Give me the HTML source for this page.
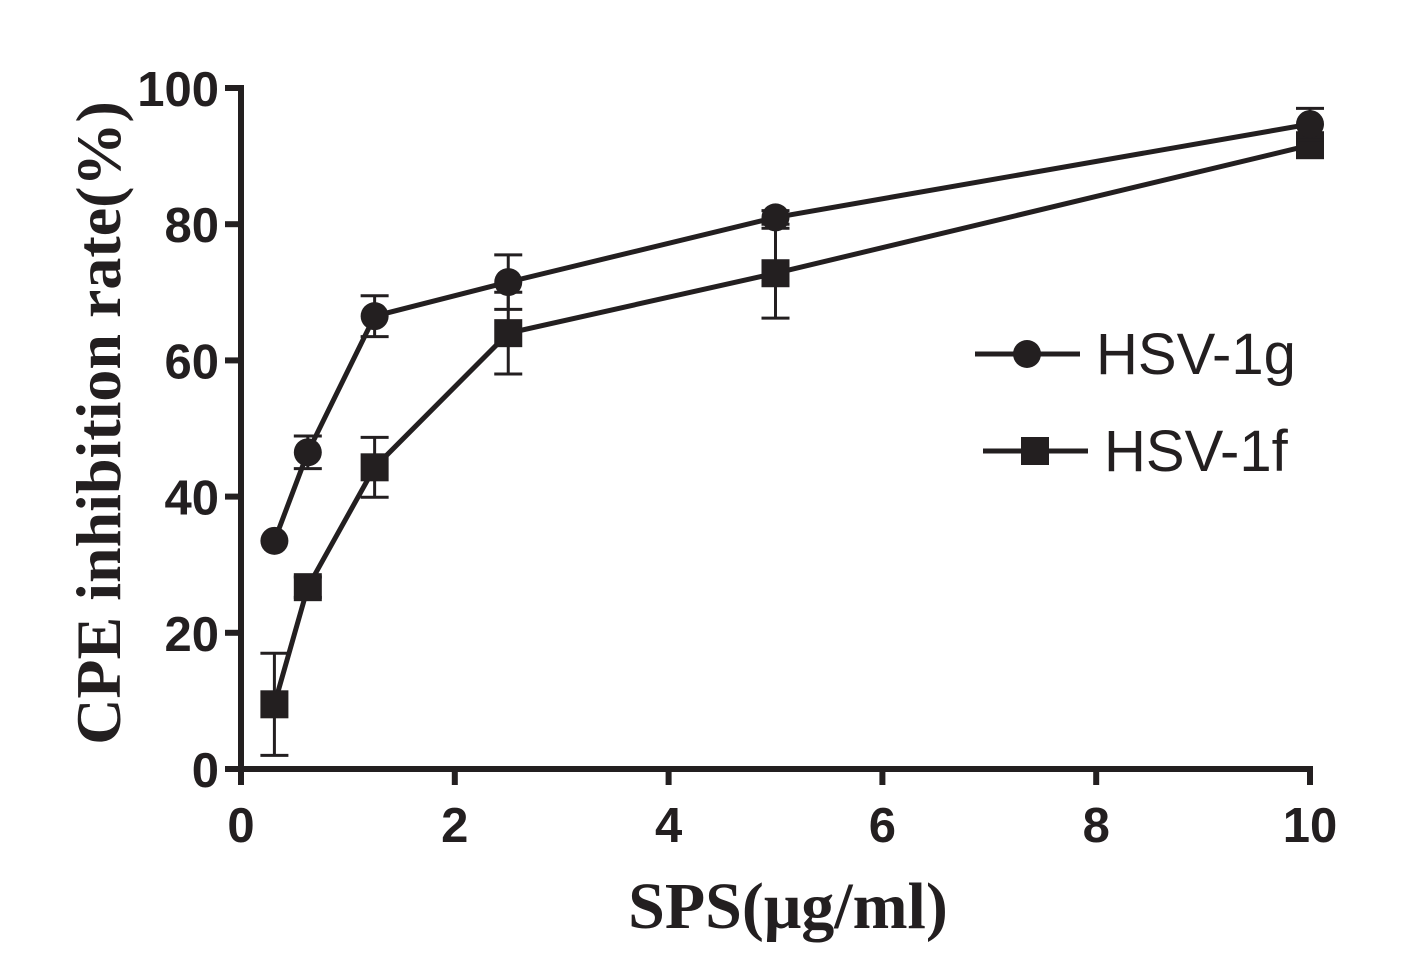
<!DOCTYPE html>
<html><head><meta charset="utf-8"><style>
body{margin:0;background:#fff;width:1417px;height:966px;overflow:hidden}
svg{display:block}
</style></head><body>
<svg id="chart" width="1417" height="966" xmlns="http://www.w3.org/2000/svg"></svg>
<script>
const xVals=[0.3125,0.625,1.25,2.5,5,10];
const gVals=[33.5,46.5,66.5,71.5,81,94.7];
const gErr=[0,2.4,3,4,1,2.3];
const fVals=[9.5,26.7,44.3,64,72.8,91.6];
const fErr=[7.5,1.5,4.4,6,6.6,1];
const xTicks=[0,2,4,6,8,10];
const yTicks=[0,20,40,60,80,100];
const NS='http://www.w3.org/2000/svg';
const svg=document.getElementById('chart');
const X0=241,X1=1310,Y0=769,Y1=88;
const xs=v=>X0+(X1-X0)*v/10;
const ys=v=>Y0-(Y0-Y1)*v/100;
function mk(t,a,p){const e=document.createElementNS(NS,t);for(const k in a)e.setAttribute(k,a[k]);(p||svg).appendChild(e);return e;}
const axes=mk('g',{});


mk('line',{x1:X0,y1:Y0,x2:X1+3,y2:Y0,stroke:'#231f20','stroke-width':6},axes);
mk('line',{x1:X0,y1:Y0+3,x2:X0,y2:Y1-3,stroke:'#231f20','stroke-width':6},axes);
xTicks.forEach(t=>{
 mk('line',{x1:xs(t),y1:Y0,x2:xs(t),y2:Y0+16,stroke:'#231f20','stroke-width':6},axes);
 const tx=mk('text',{x:xs(t),y:Y0+73,'text-anchor':'middle','font-family':'Liberation Sans, sans-serif','font-weight':'bold','font-size':49,fill:'#231f20'},axes);
 tx.textContent=t;
 
 
});
yTicks.forEach(t=>{
 mk('line',{x1:X0-16,y1:ys(t),x2:X0,y2:ys(t),stroke:'#231f20','stroke-width':6},axes);
 const tx=mk('text',{x:X0-22,y:ys(t)+18,'text-anchor':'end','font-family':'Liberation Sans, sans-serif','font-weight':'bold','font-size':49,fill:'#231f20'},axes);
 tx.textContent=t;
 
 
});
const xt=mk('text',{x:788,y:928,'text-anchor':'middle','font-family':'Liberation Serif, serif','font-weight':'bold','font-size':66,fill:'#231f20'});
xt.textContent='SPS(μg/ml)';


const yt=mk('text',{x:0,y:0,transform:'translate(120,423) rotate(-90)','text-anchor':'middle','font-family':'Liberation Serif, serif','font-weight':'bold','font-size':64,fill:'#231f20'});
yt.textContent='CPE inhibition rate(%)';


function series(vals,err,shape,name){
 const g=mk('g',{});
 
 
 mk('polyline',{points:xVals.map((x,i)=>xs(x)+','+ys(vals[i])).join(' '),fill:'none',stroke:'#231f20','stroke-width':5},g);
 xVals.forEach((x,i)=>{
  const cx=xs(x),cy=ys(vals[i]);
  if(err[i]>0){
   const a=ys(vals[i]+err[i]),b=ys(vals[i]-err[i]);
   mk('line',{x1:cx,y1:a,x2:cx,y2:b,stroke:'#231f20','stroke-width':3},g);
   mk('line',{x1:cx-14,y1:a,x2:cx+14,y2:a,stroke:'#231f20','stroke-width':3},g);
   mk('line',{x1:cx-14,y1:b,x2:cx+14,y2:b,stroke:'#231f20','stroke-width':3},g);
  }
  let m;
  if(shape==='c')m=mk('circle',{cx:cx,cy:cy,r:14,fill:'#231f20'},g);
  else m=mk('rect',{x:cx-14,y:cy-14,width:28,height:28,fill:'#231f20'},g);
  
  
 });
}
series(fVals,fErr,'s','series-hsv-1f');
series(gVals,gErr,'c','series-hsv-1g');
const lg=mk('g',{});


mk('line',{x1:975,y1:354,x2:1080,y2:354,stroke:'#231f20','stroke-width':5},lg);
mk('circle',{cx:1027,cy:354,r:14,fill:'#231f20'},lg);
const l1=mk('text',{x:1096,y:374,'font-family':'Liberation Sans, sans-serif','font-size':58,fill:'#231f20'},lg);
l1.textContent='HSV-1g';


mk('line',{x1:983,y1:451,x2:1088,y2:451,stroke:'#231f20','stroke-width':5},lg);
mk('rect',{x:1021,y:437,width:28,height:28,fill:'#231f20'},lg);
const l2=mk('text',{x:1104,y:471,'font-family':'Liberation Sans, sans-serif','font-size':58,fill:'#231f20'},lg);
l2.textContent='HSV-1f';


</script>
</body></html>
